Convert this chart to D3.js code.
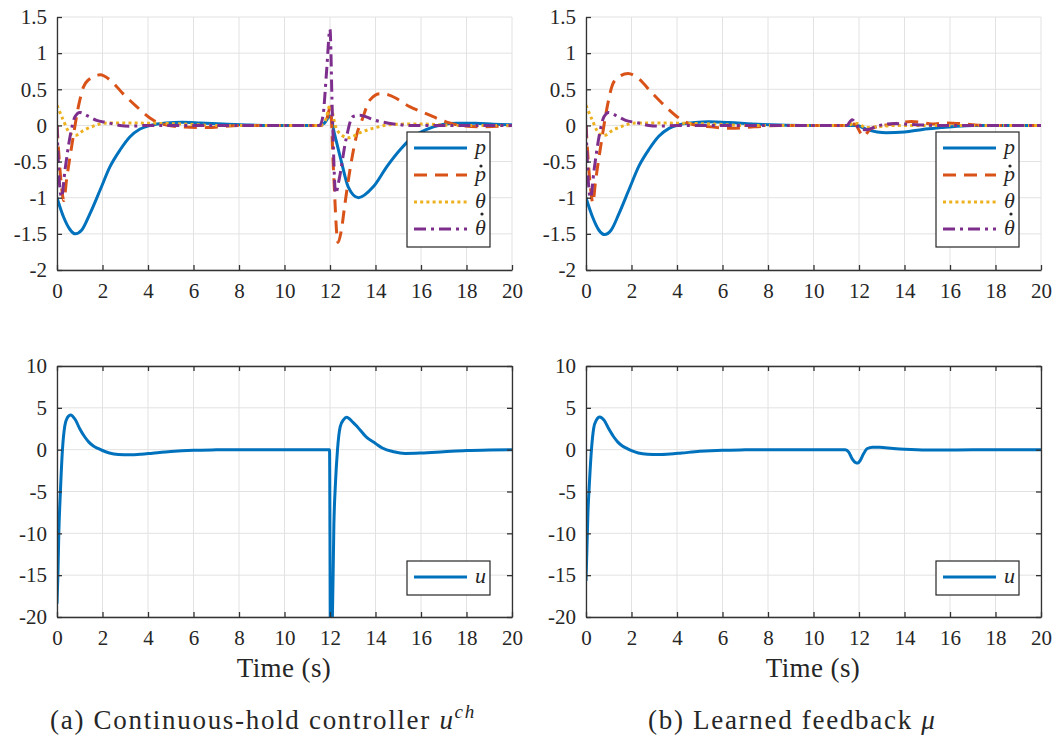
<!DOCTYPE html>
<html>
<head>
<meta charset="utf-8">
<script src="https://cdn.jsdelivr.net/npm/d3@7"></script>
<style>
  body { margin: 0; background: #fff; }
</style>
</head>
<body>
<svg id="chart" width="1060" height="742"></svg>
<script>
// ---- data (time in s, value) ----
var xTicks = [0, 2, 4, 6, 8, 10, 12, 14, 16, 18, 20]
var stateTicks = [-2, -1.5, -1, -0.5, 0, 0.5, 1, 1.5]
var inputTicks = [-20, -15, -10, -5, 0, 5, 10]

// (a) continuous-hold controller
var pA = [[0,-1],[0.28,-1.26],[0.57,-1.44],[0.8,-1.5],[1.08,-1.45],[1.45,-1.22],[1.9,-0.89],[2.33,-0.57],[2.77,-0.34],[3.2,-0.16],[3.65,-0.05],[4.1,0],[4.8,0.035],[5.5,0.045],[6.3,0.035],[7.3,0.02],[8.5,0.005],[9.5,0],[11.5,0],[11.75,0.03],[12.0,0.13],[12.2,-0.12],[12.5,-0.5],[12.8,-0.85],[13.25,-1.0],[13.9,-0.85],[14.5,-0.57],[15.1,-0.33],[15.6,-0.17],[16.2,-0.06],[16.9,0.01],[17.6,0.03],[18.4,0.03],[19.2,0.015],[20,0.01]]
var pdA = [[0,0],[0.2,-0.85],[0.3,-1.04],[0.42,-0.75],[0.64,-0.3],[0.94,0.26],[1.16,0.53],[1.38,0.63],[1.9,0.7],[2.33,0.63],[2.9,0.44],[3.5,0.26],[4.1,0.1],[4.5,0.03],[5.5,-0.02],[6.6,-0.03],[8,0],[11.6,0],[11.85,0.08],[12.02,0.26],[12.15,-0.6],[12.35,-1.62],[12.5,-1.45],[12.65,-1.1],[12.9,-0.57],[13.2,-0.1],[13.4,0.07],[13.75,0.35],[14.2,0.44],[14.6,0.42],[15.5,0.26],[16.25,0.16],[17.1,0.05],[17.7,0],[18.5,-0.02],[20,0]]
var thA = [[0,0.28],[0.28,0.07],[0.57,-0.11],[0.8,-0.14],[1.16,-0.07],[1.6,-0.01],[2.04,0.03],[2.6,0.035],[4.1,0.03],[5.5,0.02],[7,0],[11.5,0],[11.8,0.07],[12.0,0.28],[12.25,-0.02],[12.5,-0.13],[12.8,-0.17],[13.4,-0.09],[14.0,-0.03],[14.8,0.015],[16,0.02],[17.5,0],[20,0]]
var thdA = [[0,0],[0.1,-0.76],[0.2,-0.99],[0.35,-0.62],[0.57,-0.16],[0.79,0.12],[1.0,0.18],[1.3,0.14],[1.74,0.07],[2.2,0.04],[2.77,0],[3.2,-0.01],[4,0],[11.55,0],[11.7,0.15],[11.85,0.75],[12.0,1.33],[12.1,0.2],[12.25,-0.94],[12.4,-0.75],[12.7,-0.2],[13.0,0.12],[13.3,0.14],[14.0,0.07],[14.8,0.02],[15.5,0],[20,0]]
var uA = [[0,-18.4],[0.04,-15],[0.08,-10],[0.15,-5],[0.24,0],[0.34,2.8],[0.45,3.8],[0.6,4.15],[0.8,3.6],[1.0,2.5],[1.2,1.6],[1.4,0.9],[1.6,0.45],[1.8,0.15],[2.0,-0.1],[2.3,-0.4],[2.7,-0.58],[3.2,-0.62],[3.7,-0.55],[4.2,-0.42],[5,-0.22],[6,-0.07],[7,-0.02],[8,0],[11.98,0],[12.02,-24],[12.1,-21],[12.17,-9],[12.24,-4],[12.33,0],[12.45,2.75],[12.6,3.6],[12.73,3.86],[13.0,3.3],[13.2,2.75],[13.6,1.5],[14.0,0.75],[14.3,0.2],[14.8,-0.25],[15.3,-0.45],[16,-0.4],[17,-0.25],[18,-0.1],[19,-0.03],[20,0]]

// (b) learned feedback
var pB = [[0,-1],[0.28,-1.26],[0.57,-1.45],[0.82,-1.51],[1.1,-1.45],[1.45,-1.22],[1.9,-0.88],[2.33,-0.56],[2.77,-0.33],[3.2,-0.15],[3.65,-0.04],[4.1,0.01],[4.8,0.04],[5.4,0.05],[6.3,0.04],[7.3,0.02],[8.5,0.005],[9.5,0],[11.9,0],[12.33,-0.055],[12.8,-0.09],[13.2,-0.1],[14.0,-0.09],[14.8,-0.055],[15.6,-0.03],[16.3,-0.01],[17,0],[20,0]]
var pdB = [[0,0],[0.2,-0.87],[0.3,-1.07],[0.42,-0.77],[0.64,-0.3],[0.94,0.27],[1.16,0.56],[1.4,0.66],[1.85,0.72],[2.3,0.65],[2.9,0.45],[3.5,0.26],[4.1,0.1],[4.5,0.03],[5.5,-0.02],[6.4,-0.04],[7.4,-0.02],[8.5,0],[11.5,0],[11.8,0.02],[12.1,-0.12],[12.2,-0.15],[12.5,-0.05],[13.1,0],[13.7,0.03],[14.3,0.055],[14.8,0.04],[15.2,0.02],[15.8,0.035],[16.7,0.02],[17.5,0],[20,0]]
var thB = [[0,0.28],[0.28,0.07],[0.57,-0.11],[0.8,-0.14],[1.16,-0.07],[1.6,-0.01],[2.04,0.03],[2.6,0.035],[4.1,0.03],[5.5,0.02],[7,0],[11.5,0],[11.8,0.03],[12.0,0.02],[12.3,-0.03],[12.8,-0.02],[13.5,0],[20,0]]
var thdB = [[0,0],[0.1,-0.76],[0.2,-1.0],[0.35,-0.63],[0.57,-0.16],[0.79,0.12],[1.0,0.18],[1.3,0.14],[1.74,0.07],[2.2,0.04],[2.77,0],[3.2,-0.01],[4,0],[11.45,0],[11.7,0.08],[11.9,0],[12.1,-0.05],[12.33,-0.06],[12.9,0],[13.6,0.025],[14.5,0.01],[15.5,0],[20,0]]
var uB = [[0,-15.7],[0.04,-12],[0.08,-8],[0.15,-4],[0.24,0],[0.34,2.6],[0.45,3.5],[0.6,3.9],[0.8,3.5],[1.0,2.5],[1.2,1.6],[1.4,0.9],[1.6,0.45],[1.8,0.15],[2.0,-0.12],[2.3,-0.4],[2.7,-0.55],[3.2,-0.58],[3.7,-0.52],[4.2,-0.4],[5,-0.2],[6,-0.06],[7,-0.02],[8,0],[11.4,0],[11.55,-0.3],[11.7,-1.1],[11.85,-1.55],[11.95,-1.6],[12.05,-1.3],[12.2,-0.5],[12.35,0.1],[12.6,0.3],[12.9,0.28],[13.5,0.15],[14,0.06],[15,-0.03],[16,-0.03],[18,0],[20,0]]

var colors = {p: "#0072BD", pd: "#D95319", th: "#EDB120", thd: "#7E2F8E"}
var dashes = {p: null, pd: "13,8", th: "3,3.2", thd: "12,5,3,5"}
// label text, and the height of the dot accent above the baseline (0 = none)
var names = {p: ["p", 0], pd: ["p", 15], th: ["\u03B8", 0], thd: ["\u03B8", 21]}

var FONT = "'Liberation Serif', 'Times New Roman', 'DejaVu Serif', serif"
var svg = d3.select("#chart").attr("font-family", FONT)
var fmt = function(d){ return String(d).replace("\u2212", "-") }

var panel = function(opts, id){
  var x = d3.scaleLinear().domain([0, 20]).range([opts.x0, opts.x1])
  var y = d3.scaleLinear().domain(opts.dom).range([opts.y1, opts.y0])
  var g = svg.append("g")

  // grid
  g.selectAll(".gx").data(xTicks).enter().append("line")
    .attr("x1", function(d){ return x(d) }).attr("x2", function(d){ return x(d) })
    .attr("y1", opts.y0).attr("y2", opts.y1)
    .attr("stroke", "#e2e2e2").attr("stroke-width", 1)
  g.selectAll(".gy").data(opts.ticks).enter().append("line")
    .attr("x1", opts.x0).attr("x2", opts.x1)
    .attr("y1", function(d){ return y(d) }).attr("y2", function(d){ return y(d) })
    .attr("stroke", "#e2e2e2").attr("stroke-width", 1)

  svg.append("clipPath").attr("id", id)
    .append("rect").attr("x", opts.x0).attr("y", opts.y0)
    .attr("width", opts.x1 - opts.x0).attr("height", opts.y1 - opts.y0)

  var line = d3.line()
    .x(function(d){ return x(d[0]) })
    .y(function(d){ return y(d[1]) })
    .curve(d3.curveMonotoneX)

  var lg = g.append("g").attr("clip-path", "url(#" + id + ")")
  opts.series.forEach(function(s){
    lg.append("path").datum(s.data)
      .attr("d", line)
      .attr("fill", "none")
      .attr("stroke", colors[s.key])
      .attr("stroke-width", 3)
      .attr("stroke-dasharray", dashes[s.key])
  })

  // axes with inward ticks
  var ax = g.append("g").attr("transform", "translate(0," + opts.y1 + ")")
    .call(d3.axisBottom(x).tickValues(xTicks).tickSize(-5).tickPadding(13).tickSizeOuter(0))
  var ay = g.append("g").attr("transform", "translate(" + opts.x0 + ",0)")
    .call(d3.axisLeft(y).tickValues(opts.ticks).tickFormat(fmt).tickSize(-5).tickPadding(10).tickSizeOuter(0))
  if (opts.box) {
    g.append("g").attr("transform", "translate(0," + opts.y0 + ")")
      .call(d3.axisTop(x).tickValues(xTicks).tickSize(-5).tickFormat("").tickSizeOuter(0))
    g.append("g").attr("transform", "translate(" + opts.x1 + ",0)")
      .call(d3.axisRight(y).tickValues(opts.ticks).tickSize(-5).tickFormat("").tickSizeOuter(0))
  }
  g.selectAll("g").attr("font-family", FONT)
  g.selectAll(".domain").attr("stroke", "#333").attr("stroke-width", 1.3)
  g.selectAll(".tick line").attr("stroke", "#333").attr("stroke-width", 1.3)
  g.selectAll(".tick text").attr("font-size", 21).attr("fill", "#262626")
  ax.selectAll(".tick text").attr("dy", "0.71em")

  // legend
  var L = opts.legend
  var lgd = g.append("g")
  lgd.append("rect").attr("x", L.x).attr("y", L.y).attr("width", L.w).attr("height", L.h)
    .attr("fill", "#fff").attr("stroke", "#262626").attr("stroke-width", 1.2)
  opts.series.forEach(function(s, i){
    var yy = L.y + 16 + i * 27
    lgd.append("line").attr("x1", L.x + 7).attr("x2", L.x + 60)
      .attr("y1", yy).attr("y2", yy)
      .attr("stroke", colors[s.key]).attr("stroke-width", 3)
      .attr("stroke-dasharray", dashes[s.key])
    var nm = s.label ? [s.label, 0] : names[s.key]
    var t = lgd.append("text").attr("x", L.x + 68).attr("y", yy + 6)
      .attr("font-family", FONT).attr("font-size", 22).attr("font-style", "italic")
      .attr("fill", "#262626").text(nm[0])
    if (nm[1]) {
      var bb = t.node().getBBox()
      lgd.append("circle").attr("cx", bb.x + bb.width / 2 + 1.5).attr("cy", yy + 6 - nm[1])
        .attr("r", 1.6).attr("fill", "#262626")
    }
  })
}

var states = function(p, pd, th, thd){
  return [{key: "p", data: p}, {key: "pd", data: pd}, {key: "th", data: th}, {key: "thd", data: thd}]
}

panel({x0: 57, x1: 512, y0: 17, y1: 270, dom: [-2, 1.5], ticks: stateTicks, box: false,
  series: states(pA, pdA, thA, thdA), legend: {x: 407, y: 132, w: 83, h: 115}}, "c1")
panel({x0: 586, x1: 1041, y0: 17, y1: 270, dom: [-2, 1.5], ticks: stateTicks, box: false,
  series: states(pB, pdB, thB, thdB), legend: {x: 936, y: 132, w: 83, h: 115}}, "c2")
panel({x0: 57, x1: 512, y0: 366, y1: 617, dom: [-20, 10], ticks: inputTicks, box: true,
  series: [{key: "p", data: uA, label: "u"}], legend: {x: 407, y: 561, w: 83, h: 34}}, "c3")
panel({x0: 586, x1: 1041, y0: 366, y1: 617, dom: [-20, 10], ticks: inputTicks, box: true,
  series: [{key: "p", data: uB, label: "u"}], legend: {x: 936, y: 561, w: 83, h: 34}}, "c4")

// axis titles and captions
var txt = function(x, y, size){
  return svg.append("text").attr("x", x).attr("y", y)
    .attr("font-family", FONT).attr("font-size", size).attr("fill", "#262626")
}
txt(284, 677, 27).attr("text-anchor", "middle").attr("letter-spacing", 0.4).text("Time (s)")
txt(813, 677, 27).attr("text-anchor", "middle").attr("letter-spacing", 0.4).text("Time (s)")

var capA = txt(50, 729, 27).attr("letter-spacing", 1.7)
capA.append("tspan").text("(a) Continuous-hold controller ")
capA.append("tspan").attr("font-style", "italic").text("u")
capA.append("tspan").attr("font-style", "italic").attr("font-size", 19).attr("dy", -11).text("ch")

var capB = txt(648, 729, 27).attr("letter-spacing", 1.7)
capB.append("tspan").text("(b) Learned feedback ")
capB.append("tspan").attr("font-style", "italic").text("\u03BC")
</script>
</body>
</html>
